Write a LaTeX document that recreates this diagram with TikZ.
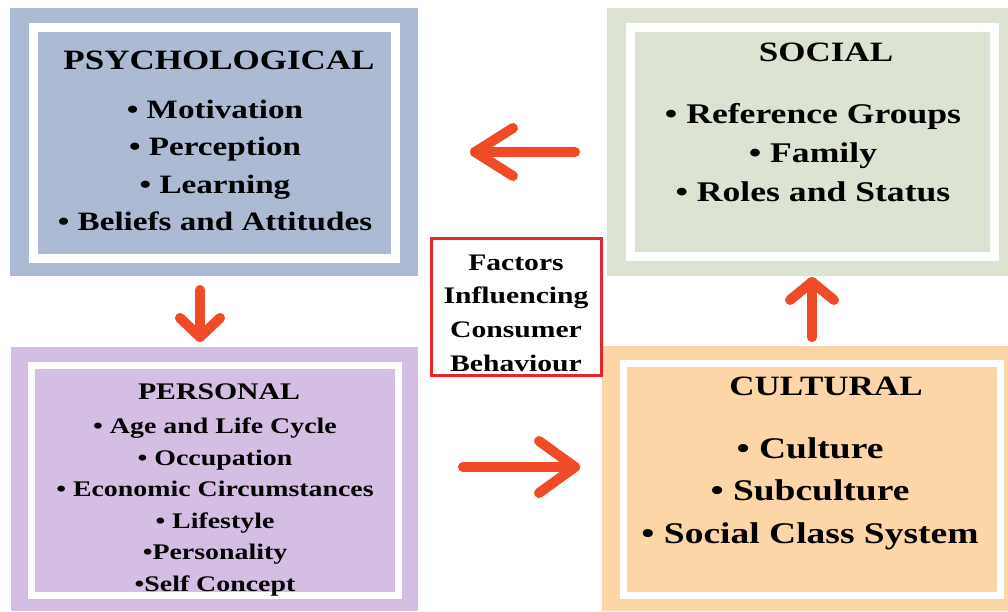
\documentclass[tikz,border=0pt]{standalone}
\usepackage{fontspec}
\setmainfont{Liberation Serif}[FakeStretch=1.25]
\usetikzlibrary{calc}
\definecolor{psy}{RGB}{172,186,212}
\definecolor{soc}{RGB}{220,227,210}
\definecolor{per}{RGB}{213,190,228}
\definecolor{cul}{RGB}{253,214,168}
\definecolor{arr}{RGB}{238,75,38}
\definecolor{redb}{RGB}{232,37,42}
\begin{document}
\begin{tikzpicture}[x=1pt,y=-1pt,
  outerbox/.style={rectangle, draw=none, inner sep=0pt},
  whiteframe/.style={draw=white},
  arrowline/.style={draw=arr, line width=10pt, line cap=round, line join=round},
  txt/.style={font=\bfseries, align=center, inner sep=0pt, text=black}]
\useasboundingbox (0,0) rectangle (1008,611);
\fill[white] (0,0) rectangle (1008,611);

% Psychological
\node[outerbox, fill=psy, minimum width=408pt, minimum height=268pt] (psyo) at (214,142) {};
\draw[whiteframe, line width=9pt, fill=psy] (33,27.5) rectangle (395.5,258.5);
\node[txt, font=\bfseries\fontsize{28}{34}\selectfont] (psyt) at (219,60) {PSYCHOLOGICAL};
\node[txt, font=\bfseries\fontsize{26.5}{37.3}\selectfont] (psyi) at (215,165.5)
  {• Motivation\\• Perception\\• Learning\\• Beliefs and Attitudes};

% Social
\node[outerbox, fill=soc, minimum width=401pt, minimum height=268pt] (soco) at (807.5,142) {};
\draw[whiteframe, line width=9pt, fill=soc] (630,27) rectangle (994,256.5);
\node[txt, font=\bfseries\fontsize{28}{34}\selectfont] (soct) at (826,52.5) {SOCIAL};
\node[txt, font=\bfseries\fontsize{28.5}{39}\selectfont] (soci) at (813,153)
  {• Reference Groups\\• Family\\• Roles and Status};

% Personal
\node[outerbox, fill=per, minimum width=407pt, minimum height=264pt] (pero) at (214.5,479) {};
\draw[whiteframe, line width=7pt, fill=per] (31.5,365) rectangle (398,595);
\node[txt, font=\bfseries\fontsize{23.8}{30}\selectfont] (pert) at (219,392) {PERSONAL};
\node[txt, font=\bfseries\fontsize{22.3}{31.6}\selectfont] (peri) at (215,507)
  {• Age and Life Cycle\\• Occupation\\• Economic Circumstances\\• Lifestyle\\•Personality\\•Self Concept};

% Cultural
\node[outerbox, fill=cul, minimum width=406pt, minimum height=265pt] (culo) at (805,478.5) {};
\draw[whiteframe, line width=7pt, fill=cul] (623.5,363.5) rectangle (1000,595.5);
\node[txt, font=\bfseries\fontsize{28}{34}\selectfont] (cult) at (826,386) {CULTURAL};
\node[txt, font=\bfseries\fontsize{30}{42.5}\selectfont] (culi) at (810,493.5)
  {• Culture\\• Subculture\\• Social Class System};

% Centre
\node[rectangle, draw=redb, line width=3pt, fill=white, minimum width=170pt, minimum height=137pt] (ctr) at (516.5,307) {};
\node[txt, font=\bfseries\fontsize{23.7}{33.7}\selectfont] (ctrt) at (516,313)
  {Factors\\Influencing\\Consumer\\Behaviour};

% Arrows
\coordinate (la1) at (575,152);
\coordinate (la2) at (475,152);
\draw[arrowline] (la1) -- (la2);
\draw[arrowline] ($(la2)+(38,-24)$) -- (la2) -- ($(la2)+(38,24)$);

\coordinate (da1) at (200,290);
\coordinate (da2) at (200,337);
\draw[arrowline] (da1) -- (da2);
\draw[arrowline] ($(da2)+(-20,-19)$) -- (da2) -- ($(da2)+(20,-19)$);

\coordinate (ra1) at (463,467);
\coordinate (ra2) at (575,467);
\draw[arrowline] (ra1) -- (ra2);
\draw[arrowline] ($(ra2)+(-36,-26)$) -- (ra2) -- ($(ra2)+(-36,26)$);

\coordinate (ua1) at (812,337);
\coordinate (ua2) at (812,282);
\draw[arrowline] (ua1) -- (ua2);
\draw[arrowline] ($(ua2)+(-22,18)$) -- (ua2) -- ($(ua2)+(22,18)$);
\end{tikzpicture}
\end{document}
